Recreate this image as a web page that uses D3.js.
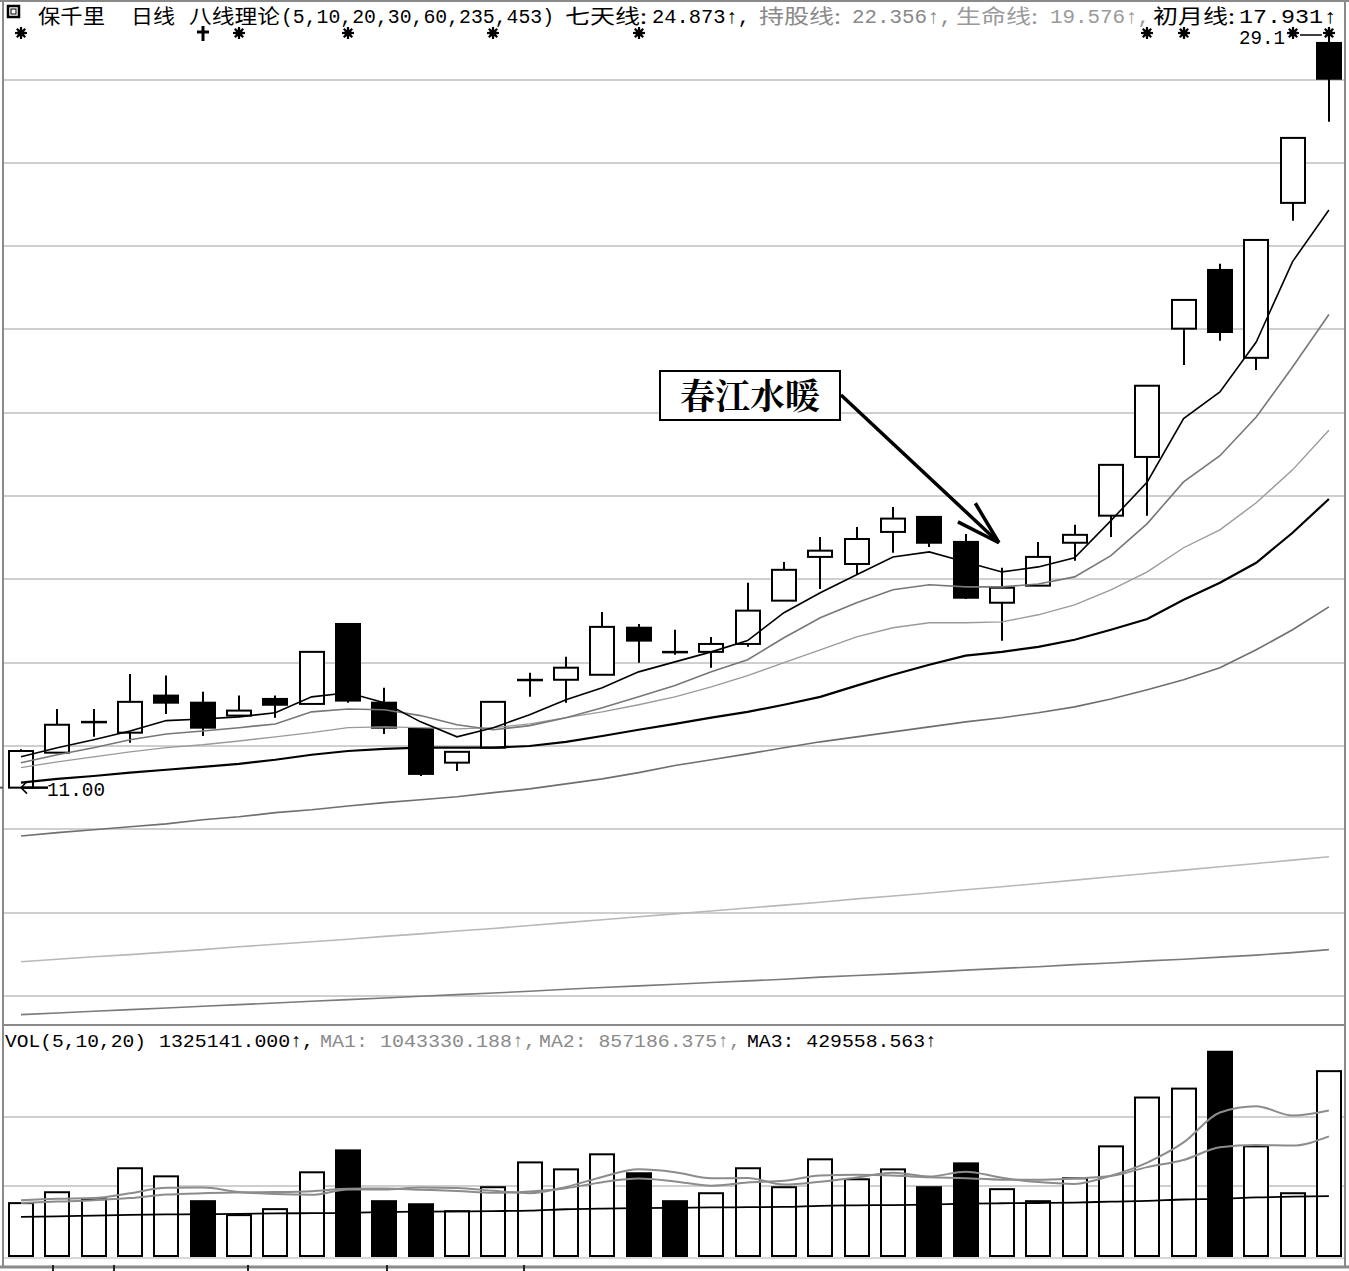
<!DOCTYPE html>
<html><head><meta charset="utf-8">
<script src="https://cdn.jsdelivr.net/npm/d3@7"></script>
<style>body{margin:0;background:#fff;} svg{display:block;}</style>
</head><body>
<svg id="c" width="1349" height="1271"></svg>
<script>
// ---------- DATA ----------
const opens  = [11.00,11.84,12.58,12.32,13.21,13.04,12.73,13.13,13.01,14.93,13.04,12.41,11.60,11.96,13.59,13.59,13.71,14.84,14.26,14.26,14.45,15.49,16.54,16.37,17.14,17.50,16.90,15.44,15.85,16.88,17.53,18.94,22.02,23.43,21.32,25.04,28.88];
const highs  = [11.92,12.89,12.89,13.73,13.69,13.30,13.21,13.21,14.26,14.93,13.40,12.41,11.86,13.06,13.76,14.14,15.22,14.93,14.79,14.62,15.92,16.42,17.02,17.26,17.74,17.50,17.09,16.28,16.90,17.31,18.75,20.65,22.71,23.58,24.15,26.60,29.10];
const lows   = [11.00,11.84,12.22,12.08,12.77,12.24,12.70,12.68,13.01,13.04,12.29,11.28,11.40,11.96,13.18,13.04,13.71,14.00,14.19,13.88,14.38,15.49,15.77,16.13,16.64,16.78,15.53,14.53,15.85,16.45,17.02,17.53,21.15,21.73,21.03,24.61,26.99];
const closes = [11.88,12.51,12.58,13.06,13.04,12.44,12.85,12.99,14.26,13.09,12.44,11.33,11.86,13.06,13.59,13.88,14.86,14.53,14.26,14.45,15.25,16.23,16.69,16.97,17.46,16.88,15.56,15.80,16.54,17.07,18.75,20.65,22.71,21.94,24.15,26.60,28.02];

const ma5   = [11.74,11.96,12.15,12.36,12.61,12.65,12.70,12.80,13.18,13.28,13.04,12.58,12.22,12.44,12.75,13.11,13.40,13.78,14.02,14.26,14.53,15.20,15.68,16.11,16.54,16.66,16.42,16.18,16.30,16.52,17.41,18.34,19.86,20.50,21.70,23.63,24.87];
const ma10  = [11.60,11.79,11.96,12.15,12.29,12.36,12.44,12.53,12.82,12.89,12.87,12.73,12.51,12.39,12.49,12.68,12.92,13.18,13.45,13.78,14.07,14.60,15.08,15.44,15.75,15.87,15.82,15.82,15.89,16.06,16.57,17.34,18.34,18.97,19.90,21.10,22.36];
const ma20  = [11.48,11.62,11.74,11.86,11.96,12.03,12.12,12.22,12.32,12.44,12.46,12.44,12.41,12.44,12.53,12.68,12.82,12.99,13.18,13.42,13.69,14.00,14.31,14.62,14.84,14.96,14.96,14.98,15.15,15.39,15.75,16.18,16.76,17.19,17.84,18.63,19.58];
const ma30  = [11.12,11.21,11.28,11.36,11.43,11.50,11.57,11.67,11.79,11.88,11.93,11.96,11.96,11.96,12.00,12.10,12.24,12.39,12.53,12.68,12.82,12.99,13.18,13.45,13.71,13.95,14.17,14.26,14.38,14.55,14.79,15.05,15.51,15.92,16.40,17.12,17.93];
const ma60  = [9.84,9.92,9.99,10.06,10.13,10.23,10.30,10.40,10.47,10.56,10.64,10.71,10.78,10.88,10.97,11.09,11.21,11.36,11.53,11.67,11.81,11.96,12.10,12.22,12.34,12.46,12.58,12.68,12.80,12.94,13.13,13.35,13.59,13.88,14.31,14.79,15.34];
const ma235 = [6.82,6.88,6.94,6.99,7.05,7.11,7.18,7.24,7.30,7.36,7.43,7.49,7.56,7.62,7.69,7.76,7.83,7.90,7.97,8.04,8.11,8.18,8.25,8.33,8.40,8.47,8.55,8.62,8.70,8.78,8.86,8.94,9.02,9.10,9.18,9.26,9.34];
const ma453 = [5.55,5.59,5.63,5.67,5.71,5.75,5.79,5.83,5.87,5.91,5.95,5.99,6.03,6.07,6.11,6.16,6.20,6.24,6.28,6.32,6.36,6.40,6.45,6.49,6.53,6.57,6.62,6.66,6.70,6.75,6.79,6.84,6.88,6.93,6.98,7.04,7.11];

const volumes = [379000,457000,407000,629000,571000,393000,293000,336000,600000,757000,393000,371000,321000,493000,671000,621000,729000,593000,393000,450000,629000,493000,693000,550000,621000,493000,664000,479000,393000,557000,786000,1136000,1200000,1464000,786000,450000,1325141];
const volDownIdx = [5,9,10,11,17,18,25,26,33];
const volMa1 = [400000,410000,415000,450000,489000,491000,459000,444000,439000,476000,476000,491000,488000,467000,450000,495000,567000,621000,601000,557000,559000,512000,532000,563000,597000,570000,604000,561000,530000,517000,576000,670000,814000,1029000,1074000,1007000,1043330];
const volMa2 = [380000,390000,400000,415000,440000,450000,455000,458000,465000,482000,484000,475000,466000,453000,463000,486000,529000,555000,534000,504000,527000,539000,577000,582000,577000,564000,558000,547000,547000,557000,573000,637000,688000,779000,796000,792000,857186];
const volMa3 = [281000,284000,290000,295000,298000,300000,302000,305000,307000,309000,315000,318000,320000,322000,325000,335000,340000,343000,345000,348000,350000,352000,360000,363000,365000,368000,375000,378000,380000,383000,390000,395000,405000,410000,420000,425000,429558];

const priceGridTicks = [6,8,10,12,14,16,18,20,22,24,26,28];
const volGridTicks = [500000,1000000];
const starSignals = [0,6,9,13,17,31,32,35,36];
const plusSignals = [5];
const axisTickIdx = [0.88,2.56,6.25,10.07,13.85];

const lowLabel = "11.00";
const highLabel = "29.1";
const annotationText = "春江水暖";
const annotationIdx = 27;

// ---------- SCALES ----------
const N = closes.length;
const svg = d3.select("#c");
const x = d3.scaleLinear().domain([0, N-1]).range([21, 1328.9]);
const y = d3.scaleLinear().domain([6, 28]).range([995.9, 79.6]);
const yv = d3.scaleLinear().domain([0, 1000000]).range([1256, 1116.5]);
const L = 3, R = 1345;
const bodyW = 24;
const mono = "'Liberation Mono','DejaVu Sans Mono',monospace";
const cjk = "'Noto Sans CJK SC','Noto Sans',sans-serif";

svg.append("rect").attr("width",1349).attr("height",1271).attr("fill","#fff");

// grid lines
svg.append("g").selectAll("line").data(priceGridTicks).join("line")
  .attr("x1",L).attr("x2",R).attr("y1",d=>Math.round(y(d))).attr("y2",d=>Math.round(y(d)))
  .attr("stroke","#cfcfcf").attr("stroke-width",2);
svg.append("g").selectAll("line").data(volGridTicks).join("line")
  .attr("x1",L).attr("x2",R).attr("y1",d=>Math.round(yv(d))).attr("y2",d=>Math.round(yv(d)))
  .attr("stroke","#cfcfcf").attr("stroke-width",2);
svg.append("line").attr("x1",L).attr("x2",R).attr("y1",yv(0)+2).attr("y2",yv(0)+2)
  .attr("stroke","#d8d8d8").attr("stroke-width",2);

// frame
const frame = svg.append("g").attr("stroke","#8a8a8a").attr("fill","none");
frame.append("line").attr("x1",L).attr("x2",L).attr("y1",0).attr("y2",1268).attr("stroke-width",2);
frame.append("line").attr("x1",R).attr("x2",R).attr("y1",0).attr("y2",1268).attr("stroke-width",2);
frame.append("line").attr("x1",0).attr("x2",1349).attr("y1",1).attr("y2",1).attr("stroke-width",2);
frame.append("line").attr("x1",L).attr("x2",R).attr("y1",1025).attr("y2",1025).attr("stroke-width",2);
frame.append("line").attr("x1",0).attr("x2",1349).attr("y1",1267).attr("y2",1267).attr("stroke-width",3);
svg.append("g").selectAll("line").data(axisTickIdx).join("line")
  .attr("x1",d=>Math.round(x(d))).attr("x2",d=>Math.round(x(d))).attr("y1",1265).attr("y2",1271)
  .attr("stroke","#222").attr("stroke-width",2);
svg.append("line").attr("x1",0).attr("x2",L).attr("y1",y(lows[0])).attr("y2",y(lows[0])).attr("stroke","#555").attr("stroke-width",2);

// candles
const idx = d3.range(N);
const cg = svg.append("g");
cg.selectAll("line").data(idx).join("line")
  .attr("x1",i=>Math.round(x(i))).attr("x2",i=>Math.round(x(i)))
  .attr("y1",i=>y(highs[i])).attr("y2",i=>y(lows[i]))
  .attr("stroke","#000").attr("stroke-width",2);
cg.selectAll("rect").data(idx).join("rect")
  .attr("x",i=>Math.round(x(i))-bodyW/2)
  .attr("y",i=>y(Math.max(opens[i],closes[i])))
  .attr("width",bodyW)
  .attr("height",i=>Math.max(0.5, Math.abs(y(opens[i])-y(closes[i]))))
  .attr("fill",i=>closes[i]<opens[i]?"#000":"#fff")
  .attr("stroke","#000").attr("stroke-width",2);

// moving averages
const line = arr => d3.line().x((d,i)=>x(i)).y(d=>y(d))(arr);
const maDefs = [
  [ma453,"#7a7a7a",1.6],[ma235,"#b8b8b8",1.6],[ma60,"#6f6f6f",1.6],
  [ma30,"#000",2.2],[ma20,"#9a9a9a",1.4],[ma10,"#777",1.6],[ma5,"#000",1.6]
];
maDefs.forEach(([arr,col,w])=>{
  svg.append("path").attr("d",line(arr)).attr("fill","none").attr("stroke",col).attr("stroke-width",w);
});

// volume bars
const vg = svg.append("g");
vg.selectAll("rect").data(idx).join("rect")
  .attr("x",i=>Math.round(x(i))-bodyW/2)
  .attr("y",i=>yv(volumes[i]))
  .attr("width",bodyW)
  .attr("height",i=>yv(0)-yv(volumes[i]))
  .attr("fill",i=>volDownIdx.includes(i)?"#000":"#fff")
  .attr("stroke","#000").attr("stroke-width",2);
const vline = arr => d3.line().x((d,i)=>x(i)).y(d=>yv(d)).curve(d3.curveMonotoneX)(arr);
[[volMa3,"#000",1.8],[volMa2,"#8c8c8c",2],[volMa1,"#8c8c8c",2]].forEach(([arr,col,w])=>{
  svg.append("path").attr("d",vline(arr)).attr("fill","none").attr("stroke",col).attr("stroke-width",w);
});

// signal markers
function star(g, cx, cy){
  const s = g.append("g").attr("transform",`translate(${cx},${cy})`);
  [0,45,90,135].forEach(a=>{
    const r = 6, rad = a*Math.PI/180;
    s.append("line").attr("x1",-r*Math.cos(rad)).attr("y1",-r*Math.sin(rad))
      .attr("x2",r*Math.cos(rad)).attr("y2",r*Math.sin(rad)).attr("stroke","#000").attr("stroke-width",2.2);
  });
  s.append("circle").attr("r",3.6).attr("fill","#000");
}
const sg = svg.append("g");
starSignals.forEach(i=>star(sg, Math.round(x(i)), 33));
plusSignals.forEach(i=>{
  const cx = Math.round(x(i));
  sg.append("line").attr("x1",cx).attr("x2",cx).attr("y1",26).attr("y2",41).attr("stroke","#000").attr("stroke-width",3);
  sg.append("line").attr("x1",cx-6).attr("x2",cx+6).attr("y1",32).attr("y2",32).attr("stroke","#000").attr("stroke-width",3);
});

// high label 29.1
const hx = x(N-1);
svg.append("text").attr("x",1239).attr("y",44).attr("font-family",mono).attr("font-size",20)
  .attr("textLength",46).attr("lengthAdjust","spacingAndGlyphs").text(highLabel);
svg.append("line").attr("x1",1300).attr("x2",hx-7).attr("y1",35).attr("y2",35).attr("stroke","#000").attr("stroke-width",1.5);

// low label 11.00
const ly = y(lows[0]);
svg.append("path").attr("d",`M27,${ly-6} L21,${ly} L27,${ly+6}`).attr("fill","none").attr("stroke","#000").attr("stroke-width",1.5);
svg.append("line").attr("x1",22).attr("x2",48).attr("y1",ly).attr("y2",ly).attr("stroke","#000").attr("stroke-width",2.5);
svg.append("text").attr("x",47).attr("y",ly+8).attr("font-family",mono).attr("font-size",20)
  .attr("textLength",58).attr("lengthAdjust","spacingAndGlyphs").text(lowLabel);

// header
function seg(xp, yp, txt, font, size, col, len){
  const t = svg.append("text").attr("x",xp).attr("y",yp).attr("font-family",font).attr("font-size",size).attr("fill",col).text(txt);
  if(len) t.attr("textLength",len).attr("lengthAdjust","spacingAndGlyphs");
  return t;
}
// icon
svg.append("rect").attr("x",8).attr("y",6).attr("width",11).attr("height",11).attr("fill","none").attr("stroke","#000").attr("stroke-width",2.5);
svg.append("rect").attr("x",11).attr("y",9).attr("width",5).attr("height",5).attr("fill","#fff").attr("stroke","#000").attr("stroke-width",1);
const hy = 24, ny = 23;
seg(38,hy,"保千里",cjk,20,"#000",67);
seg(131,hy,"日线",cjk,20,"#000",44);
seg(189,hy,"八线理论",cjk,20,"#000",91);
seg(281,ny,"(5,10,20,30,60,235,453)",mono,20,"#000",273);
seg(565,hy,"七天线:",cjk,20,"#000",82);
seg(652,ny,"24.873↑,",mono,20,"#000",98);
seg(759,hy,"持股线:",cjk,20,"#8a8a8a",82);
seg(852,ny,"22.356↑,",mono,20,"#8a8a8a",100);
seg(956,hy,"生命线:",cjk,20,"#9a9a9a",82);
seg(1050,ny,"19.576↑,",mono,20,"#9a9a9a",100);
seg(1153,hy,"初月线:",cjk,20,"#000",82);
seg(1239,ny,"17.931↑",mono,20,"#000",98);

// volume header
const vy = 1047;
seg(5,vy,"VOL(5,10,20)",mono,19,"#000",141);
seg(159,vy,"1325141.000↑,",mono,19,"#000",155);
seg(320,vy,"MA1: 1043330.188↑,",mono,19,"#8a8a8a",216);
seg(539,vy,"MA2: 857186.375↑,",mono,19,"#8a8a8a",202);
seg(747,vy,"MA3: 429558.563↑",mono,19,"#000",190);

// annotation
const ag = svg.append("g");
ag.append("rect").attr("x",660).attr("y",371).attr("width",180).attr("height",49)
  .attr("fill","#fff").attr("stroke","#000").attr("stroke-width",2);
ag.append("text").attr("x",750).attr("y",409).attr("text-anchor","middle")
  .attr("font-family","'Noto Serif CJK SC','Noto Sans CJK SC',serif").attr("font-weight",700).attr("font-size",35)
  .text(annotationText);
const tipX = x(annotationIdx)-3, tipY = y(highs[annotationIdx])-25;
const sx = 841, sy = 395;
ag.append("line").attr("x1",sx).attr("y1",sy).attr("x2",tipX).attr("y2",tipY).attr("stroke","#000").attr("stroke-width",3.5);
const ang = Math.atan2(sy-tipY, sx-tipX);
[-0.28,0.28].forEach(da=>{
  const a = ang+da, len = 46;
  ag.append("line").attr("x1",tipX).attr("y1",tipY)
    .attr("x2",tipX+len*Math.cos(a)).attr("y2",tipY+len*Math.sin(a))
    .attr("stroke","#000").attr("stroke-width",3.5);
});
</script>
</body></html>
